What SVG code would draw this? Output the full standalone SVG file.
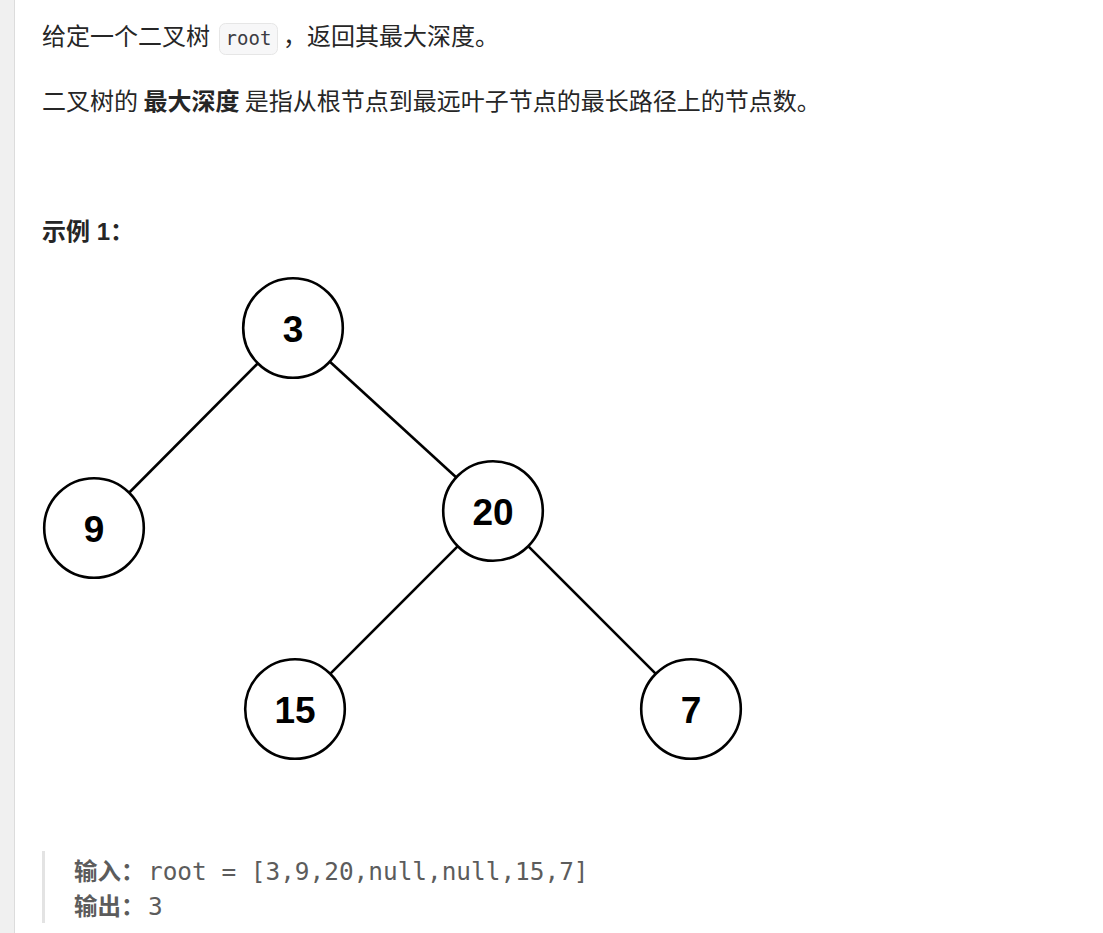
<svg xmlns="http://www.w3.org/2000/svg" width="1103" height="933" viewBox="0 0 1103 933">
  <style>
    .txt { font-family: "Noto Sans CJK SC", "Noto Sans", sans-serif; font-size: 24px; fill: #262626; }
    .bold { font-weight: bold; }
    .code { font-family: "DejaVu Sans Mono", "Liberation Mono", monospace; font-size: 19px; fill: #3c3c43; }
    .out { font-family: "Noto Sans CJK SC", sans-serif; font-size: 23.5px; fill: #5c5c5c; }
    .outmono { font-family: "DejaVu Sans Mono", "Liberation Mono", monospace; font-size: 24.4px; fill: #5c5c5c; }
    .node circle { fill: #ffffff; stroke: #000000; stroke-width: 2.6; }
    .node text { font-family: "Liberation Sans", Arial, sans-serif; font-weight: bold; font-size: 37px; fill: #000000; text-anchor: middle; }
    .edges line { stroke: #000000; stroke-width: 2.6; }
  </style>
  <rect x="0" y="0" width="1103" height="933" fill="#ffffff"/>
  <rect x="0" y="0" width="14" height="933" fill="#f0f0f0"/>
  <rect x="14" y="0" width="1" height="933" fill="#dcdcdc"/>

  <g id="description">
    <text class="txt" x="42" y="45">给定一个二叉树</text>
    <rect x="219.5" y="23.5" width="58" height="31" rx="6" fill="#f7f7f8" stroke="#e6e6e6" stroke-width="1"/>
    <text class="code" x="248.5" y="45" text-anchor="middle">root</text>
    <text class="txt" x="283" y="45">，返回其最大深度。</text>
    <text class="txt" x="42" y="110">二叉树的 <tspan class="bold">最大深度</tspan> 是指从根节点到最远叶子节点的最长路径上的节点数。</text>
    <text class="txt bold" x="42" y="240" style="font-family: 'Liberation Sans', 'Noto Sans CJK SC', sans-serif;">示例 1：</text>
  </g>

  <g id="connectors" class="edges">
    <line x1="257.7" y1="363.5" x2="129.3" y2="492.5"/>
    <line x1="329.9" y1="361.8" x2="456.1" y2="477.2"/>
    <line x1="457.6" y1="546.4" x2="330.4" y2="673.6"/>
    <line x1="528.4" y1="546.4" x2="655.6" y2="673.6"/>
  </g>

  <g id="node-3" class="node">
    <circle cx="293" cy="328" r="49.8"/>
    <text x="293" y="342">3</text>
  </g>
  <g id="node-9" class="node">
    <circle cx="94" cy="528" r="49.8"/>
    <text x="94" y="542">9</text>
  </g>
  <g id="node-20" class="node">
    <circle cx="493" cy="511" r="49.8"/>
    <text x="493" y="525">20</text>
  </g>
  <g id="node-15" class="node">
    <circle cx="295" cy="709" r="49.8"/>
    <text x="295" y="723">15</text>
  </g>
  <g id="node-7" class="node">
    <circle cx="691" cy="709" r="49.8"/>
    <text x="691" y="723">7</text>
  </g>

  <g id="example-output">
    <rect x="42" y="851" width="3" height="72" fill="#e3e3e3"/>
    <text class="out bold" x="74" y="880">输入：</text>
    <text class="outmono" x="148" y="880">root = [3,9,20,null,null,15,7]</text>
    <text class="out bold" x="74" y="915">输出：</text>
    <text class="outmono" x="148" y="915">3</text>
  </g>
</svg>
